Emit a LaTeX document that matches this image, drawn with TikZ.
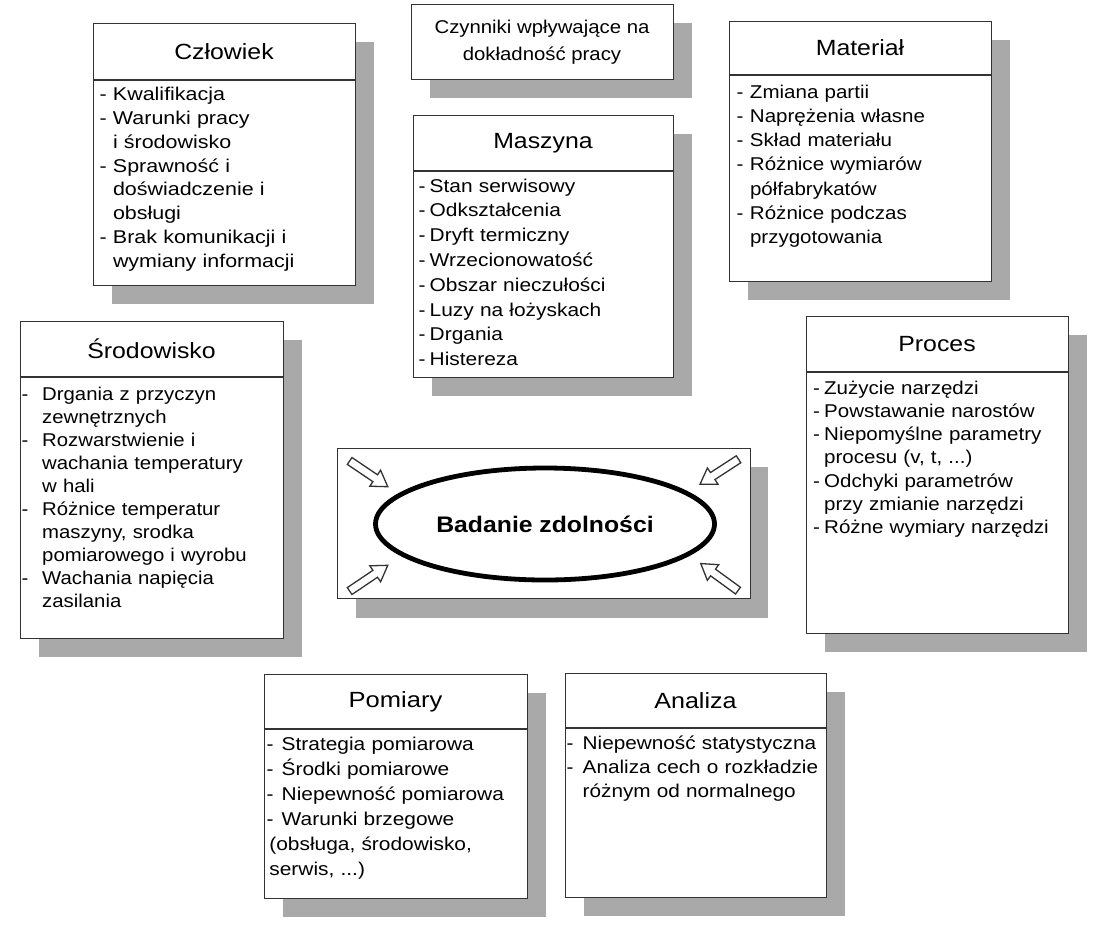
\documentclass[tikz,border=0pt]{standalone}
\usepackage{fontspec}
\setmainfont{Liberation Sans}[FakeStretch=1.1]
\usetikzlibrary{shapes.arrows,shapes.geometric}
\definecolor{shadowc}{HTML}{A9A9A9}
\definecolor{linec}{HTML}{333333}
\tikzset{
 boxst/.style={draw=linec, line width=1.1pt, fill=white, inner sep=0pt, anchor=north west},
 divst/.style={draw=linec, line width=1.1pt},
 titlest/.style={font={\fontspec{Liberation Sans}[FakeStretch=\ts]\fontsize{22pt}{26pt}\selectfont}, inner sep=0pt},
 listst/.style={font={\fontspec{Liberation Sans}[FakeStretch=\st]\fontsize{18.5pt}{\bs pt}\selectfont}, inner sep=0pt, text width=260pt, align=left, anchor=base west},
 hollow/.style={single arrow, draw=linec, line width=1.3pt, fill=white, minimum height=46pt, inner xsep=0pt, inner ysep=3.5pt, single arrow head extend=5.5pt, single arrow tip angle=65},
}
\newcommand\dd{\makebox[\dw pt][l]{-}}
\newcommand\ind{\hspace*{\ci pt}}
% \panel{name}{x1}{y1}{x2}{y2}{ydiv}{title}{text x / first baseline}{lines}
\newcommand\panel[9]{%
  \fill[shadowc] ({#2+19},{#3+19}) rectangle ({#4+19},{#5+19});
  \node[boxst, minimum width={#4-#2}, minimum height={#5-#3}] (#1) at (#2,#3) {};
  \draw[divst] (#1.west |- 0,#6) -- (#1.east |- 0,#6);
  \node[titlest] (#1-t) at ({(#2+#4)/2},{(#3+#6)/2}) {#7};
  \node[listst] (#1-l) at (#8) {#9};
}
\begin{document}
\begin{tikzpicture}[x=1pt,y=-1pt]
\useasboundingbox (0,0) rectangle (1102,930);

% Title box
\fill[shadowc] (430,23) rectangle (692,98);
\node[boxst, minimum width=262, minimum height=75] (czy) at (411,4) {};
\node[font=\fontsize{18.5pt}{26.7pt}\selectfont, align=center, inner sep=0pt] (czy-t) at (542,42) {Czynniki wpływające na\\dokładność pracy};

\def\ts{1.13}
\def\bs{23.8}\def\st{1.16}\def\dw{13.3}\def\ci{13.3}
\panel{czl}{93}{23}{355}{285}{80}{Człowiek}{99.5,100.7}{%
\dd Kwalifikacja\\
\dd Warunki pracy\\
\ind i środowisko\\
\dd Sprawność i\\
\ind doświadczenie i\\
\ind obsługi\\
\dd Brak komunikacji i\\
\ind wymiany informacji}

\def\bs{24.8}\def\st{1.13}\def\dw{11}\def\ci{11}
\panel{masz}{413}{115}{673}{377}{171}{Maszyna}{418.5,192}{%
\dd Stan serwisowy\\
\dd Odkształcenia\\
\dd Dryft termiczny\\
\dd Wrzecionowatość\\
\dd Obszar nieczułości\\
\dd Luzy na łożyskach\\
\dd Drgania\\
\dd Histereza}

\def\bs{24.3}\def\st{1.11}\def\dw{13.3}\def\ci{13.3}
\panel{mat}{729}{21}{991}{281}{75}{Materiał}{736.5,98}{%
\dd Zmiana partii\\
\dd Naprężenia własne\\
\dd Skład materiału\\
\dd Różnice wymiarów\\
\ind półfabrykatów\\
\dd Różnice podczas\\
\ind przygotowania}

\def\bs{23.1}\def\st{1.1}\def\dw{20.5}\def\ci{20.5}
\panel{srod}{20}{321}{283}{638}{377}{Środowisko}{21.5,400}{%
\dd Drgania z przyczyn\\
\ind zewnętrznych\\
\dd Rozwarstwienie i\\
\ind wachania temperatury\\
\ind w hali\\
\dd Różnice temperatur\\
\ind maszyny, srodka\\
\ind pomiarowego i wyrobu\\
\dd Wachania napięcia\\
\ind zasilania}

\def\bs{23.3}\def\st{1.11}\def\dw{11}\def\ci{11}
\panel{proc}{806}{316}{1068}{633}{372}{Proces}{813,394}{%
\dd Zużycie narzędzi\\
\dd Powstawanie narostów\\
\dd Niepomyślne parametry\\
\ind procesu (v, t, ...)\\
\dd Odchyki parametrów\\
\ind przy zmianie narzędzi\\
\dd Różne wymiary narzędzi}

\def\ts{1.16}
\def\bs{24.9}\def\st{1.13}\def\dw{15}\def\ci{2.7}
\panel{pom}{264}{674}{527}{898}{729}{Pomiary}{266.5,750.7}{%
\dd Strategia pomiarowa\\
\dd Środki pomiarowe\\
\dd Niepewność pomiarowa\\
\dd Warunki brzegowe\\
\ind (obsługa, środowisko,\\
\ind serwis, ...)}

\def\ts{1.14}
\def\bs{24.3}\def\st{1.122}\def\dw{16}\def\ci{16}
\panel{anal}{565}{673}{826}{897}{728}{Analiza}{566.5,749}{%
\dd Niepewność statystyczna\\
\dd Analiza cech o rozkładzie\\
\ind różnym od normalnego}

% Centre box
\fill[shadowc] (356,467) rectangle (768,618);
\node[boxst, minimum width=413, minimum height=150] (cbox) at (337,448) {};
\node[ellipse, draw=black, line width=4.8pt, minimum width=339, minimum height=112, inner sep=0pt,
      font=\bfseries\fontsize{22.5pt}{27pt}\selectfont] (bad) at (545,524) {Badanie zdolności};
\node[hollow, rotate=-34] (a1) at (366,472) {};
\node[hollow, rotate=-147] (a2) at (722,470) {};
\node[hollow, rotate=34] (a3) at (366,580) {};
\node[hollow, rotate=144] (a4) at (722,579) {};
\end{tikzpicture}
\end{document}
